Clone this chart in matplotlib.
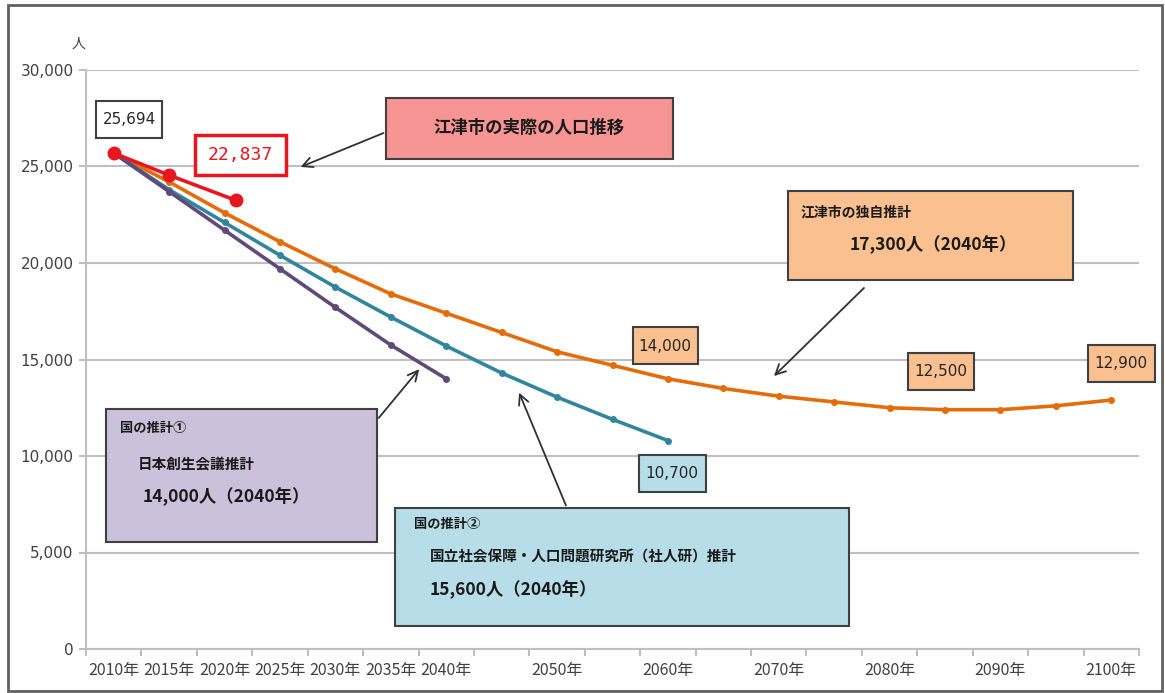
import numpy as np
import matplotlib
matplotlib.use("Agg")
import matplotlib.pyplot as plt
from matplotlib.patches import Rectangle

plt.rcParams['font.family'] = ['Noto Sans CJK JP', 'DejaVu Sans']

# data
years = list(range(2010, 2101, 5))
ezu_own = [25694, 24200, 22600, 21100, 19700, 18400, 17400, 16400, 15400, 14700,
           14000, 13500, 13100, 12800, 12500, 12400, 12400, 12600, 12900]
ipss_years = list(range(2010, 2061, 5))
ipss = [25694, 23800, 22100, 20400, 18750, 17200, 15700, 14300, 13050, 11900, 10800]
jpc_years = list(range(2010, 2041, 5))
jpc = [25694, 23700, 21700, 19700, 17700, 15750, 14000]
actual_years = [2010, 2015, 2021]
actual = [25694, 24550, 23250]

xlabel_years = [2010, 2015, 2020, 2025, 2030, 2035, 2040, 2050, 2060, 2070, 2080, 2090, 2100]
xlabels = [f"{y}年" for y in xlabel_years]
yticks = [0, 5000, 10000, 15000, 20000, 25000, 30000]

W, H = 1165, 693
fig = plt.figure(figsize=(W / 100, H / 100), dpi=100)
ax = fig.add_axes([86 / W, 1 - 649 / H, (1139 - 86) / W, (649 - 70) / H])

def px(x, y):
    # pixel (from top-left) -> figure fraction
    return (x / W, 1 - y / H)

ORANGE = '#E46C0A'
TEAL = '#31859C'
PURPLE = '#604A7B'
RED = '#E8161E'
GRID = '#BFBFBF'

ax.plot(years, ezu_own, color=ORANGE, lw=2.6, marker='o', ms=4, zorder=3)
ax.plot(ipss_years, ipss, color=TEAL, lw=2.6, marker='o', ms=4, zorder=3)
ax.plot(jpc_years, jpc, color=PURPLE, lw=2.6, marker='o', ms=4, zorder=3)
ax.plot(actual_years, actual, color=RED, lw=2.6, marker='o', ms=9, zorder=4)

ax.set_xlim(2007.5, 2102.5)
ax.set_ylim(0, 30000)
ax.set_yticks(yticks)
ax.set_yticklabels([f"{v:,}" for v in yticks], family='DejaVu Sans')
ax.set_xticks(xlabel_years)
ax.set_xticklabels(xlabels)
ax.set_xticks(np.arange(2007.5, 2103, 5), minor=True)
ax.tick_params(axis='x', which='major', length=0, pad=9, labelsize=11.5, labelcolor='#404040')
ax.tick_params(axis='x', which='minor', length=5, color=GRID, width=1.5)
ax.tick_params(axis='y', length=5, color=GRID, width=1.5, labelsize=11, labelcolor='#404040', pad=4)
ax.grid(axis='y', color=GRID, lw=1.5)
ax.set_axisbelow(True)
for s in ['top', 'right']:
    ax.spines[s].set_visible(False)
for s in ['left', 'bottom']:
    ax.spines[s].set_color(GRID)
    ax.spines[s].set_linewidth(1.5)

fig.text(*px(78, 44), "人", ha='center', va='center', fontsize=10, color='#404040')

def box(x0, y0, x1, y1, fc, ec='#404040', lw=1.5):
    r = Rectangle(px(x0, y1), (x1 - x0) / W, (y1 - y0) / H, transform=fig.transFigure,
                  facecolor=fc, edgecolor=ec, lw=lw, zorder=5)
    fig.patches.append(r)

def arrow(x0, y0, x1, y1):
    ax.annotate("", xy=px(x1, y1), xytext=px(x0, y0), xycoords='figure fraction',
                textcoords='figure fraction',
                arrowprops=dict(arrowstyle='->', color='#303030', lw=1.3,
                                mutation_scale=18), zorder=6)

# value labels
box(96, 101, 162, 138, 'white', '#404040')
fig.text(*px(129, 119), "25,694", ha='center', va='center', fontsize=11,
         family='DejaVu Sans', color='#262626', zorder=6)
box(195, 135, 286, 175, 'white', RED, lw=2.5)
fig.text(*px(240, 155), "22,837", ha='center', va='center', fontsize=13,
         family='DejaVu Sans Mono', color=RED, zorder=6)
box(633, 327, 698, 364, '#FAC090')
fig.text(*px(665, 346), "14,000", ha='center', va='center', fontsize=11,
         family='DejaVu Sans', color='#262626', zorder=6)
box(908, 353, 974, 390, '#FAC090')
fig.text(*px(941, 372), "12,500", ha='center', va='center', fontsize=11,
         family='DejaVu Sans', color='#262626', zorder=6)
box(1088, 345, 1155, 382, '#FAC090')
fig.text(*px(1121, 363), "12,900", ha='center', va='center', fontsize=11,
         family='DejaVu Sans', color='#262626', zorder=6)
box(639, 455, 706, 492, '#B7DEE8')
fig.text(*px(672, 473), "10,700", ha='center', va='center', fontsize=11,
         family='DejaVu Sans', color='#262626', zorder=6)

# callout boxes
box(386, 98, 673, 159, '#F79494')
fig.text(*px(529, 128), "江津市の実際の人口推移", ha='center', va='center', fontsize=12.5,
         weight='bold', color='#1A1A1A', zorder=6)
arrow(386, 132, 298, 168)

box(788, 191, 1073, 280, '#FAC090')
fig.text(*px(800, 213), "江津市の独自推計", ha='left', va='center', fontsize=10,
         weight='bold', color='#1A1A1A', zorder=6)
fig.text(*px(850, 245), "17,300人（2040年）", ha='left', va='center', fontsize=12.5,
         weight='bold', color='#1A1A1A', zorder=6)
arrow(866, 286, 772, 378)

box(106, 409, 377, 542, '#CCC1DA')
fig.text(*px(120, 428), "国の推計①", ha='left', va='center', fontsize=9.5,
         weight='bold', color='#1A1A1A', zorder=6)
fig.text(*px(138, 463), "日本創生会議推計", ha='left', va='center', fontsize=10.5,
         weight='bold', color='#1A1A1A', zorder=6)
fig.text(*px(143, 497), "14,000人（2040年）", ha='left', va='center', fontsize=12.5,
         weight='bold', color='#1A1A1A', zorder=6)
arrow(377, 420, 421, 367)

box(395, 508, 849, 626, '#B7DEE8')
fig.text(*px(414, 524), "国の推計②", ha='left', va='center', fontsize=9.5,
         weight='bold', color='#1A1A1A', zorder=6)
fig.text(*px(430, 556), "国立社会保障・人口問題研究所（社人研）推計", ha='left', va='center',
         fontsize=10.5, weight='bold', color='#1A1A1A', zorder=6)
fig.text(*px(430, 590), "15,600人（2040年）", ha='left', va='center', fontsize=12.5,
         weight='bold', color='#1A1A1A', zorder=6)
arrow(567, 508, 518, 390)

# outer frame
fig.patches.append(Rectangle((8 / W, 2 / H), 1154 / W, 686 / H, transform=fig.transFigure,
                             fill=False, edgecolor='#606060', lw=2))

fig.savefig("out.png", dpi=100)
